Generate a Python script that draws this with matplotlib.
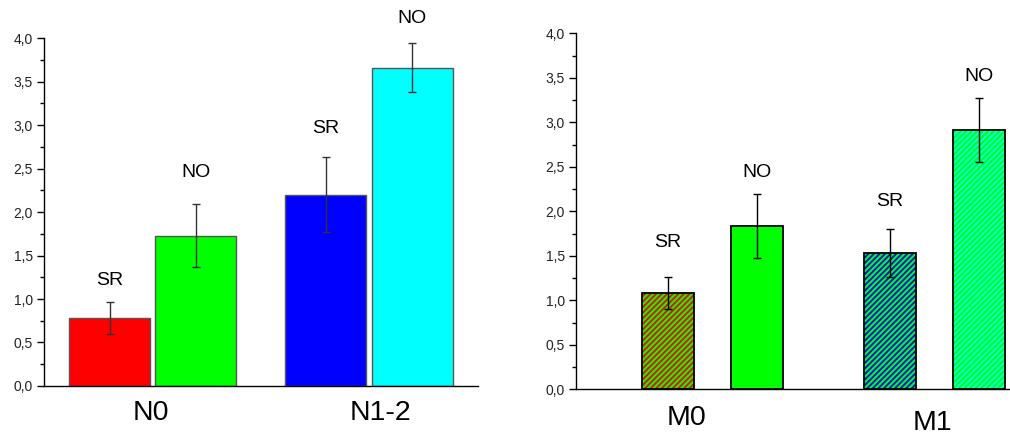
import numpy as np
import matplotlib
matplotlib.use('Agg')
import matplotlib.pyplot as plt
from matplotlib.ticker import MultipleLocator, FuncFormatter

plt.rcParams['font.family'] = ['Liberation Sans', 'DejaVu Sans']
plt.rcParams['hatch.linewidth'] = 1.3

# left panel data
groups_l = ['N0', 'N1-2']
labels_l = ['SR', 'NO', 'SR', 'NO']
vals_l = [0.78, 1.73, 2.20, 3.66]
errs_l = [0.18, 0.36, 0.43, 0.28]
colors_l = ['#ff0000', '#00ff00', '#0000ff', '#00ffff']

# right panel data
groups_r = ['M0', 'M1']
labels_r = ['SR', 'NO', 'SR', 'NO']
vals_r = [1.08, 1.83, 1.53, 2.91]
errs_r = [0.18, 0.36, 0.27, 0.36]
face_r = ['#00ff00', '#00ff00', '#00ff00', '#00ff00']
hatch_col_r = ['#ff0000', None, '#0000ff', '#00ffff']

# layout
xpos_l = [0.0, 1.062, 2.667, 3.735]
lab_y_l = [1.21, 2.45, 2.96, 4.23]
grp_x_l = [0.51, 3.35]
grp_y_l = [-0.078, -0.078]

xpos_r = [0.0, 1.70, 4.26, 5.97]
lab_y_r = [1.65, 2.44, 2.11, 3.51]
grp_x_r = [0.36, 5.07]
grp_y_r = [-0.081, -0.095]

fmt = FuncFormatter(lambda v, p: ('%.1f' % v).replace('.', ','))


def style_axis(ax):
    ax.spines['top'].set_visible(False)
    ax.spines['right'].set_visible(False)
    ax.spines['left'].set_linewidth(1.0)
    ax.spines['bottom'].set_linewidth(1.0)
    ax.set_ylim(0, 4.0)
    ax.yaxis.set_major_locator(MultipleLocator(0.5))
    ax.yaxis.set_minor_locator(MultipleLocator(0.25))
    ax.yaxis.set_major_formatter(fmt)
    ax.tick_params(axis='y', which='major', length=5, width=1, labelsize=10,
                   labelcolor='#222222', pad=3)
    ax.tick_params(axis='y', which='minor', length=3, width=1)
    ax.set_xticks([])


fig = plt.figure(figsize=(10.1, 4.36), dpi=100)

# left
ax1 = fig.add_axes([0.0436, 0.1147, 0.4297, 0.798])
ax1.bar(xpos_l, vals_l, width=1.0, color=colors_l, edgecolor='#555555',
        linewidth=1.0, zorder=2)
ax1.errorbar(xpos_l, vals_l, yerr=errs_l, fmt='none', ecolor='#333333',
             elinewidth=1.0, capsize=3, capthick=1.0, zorder=3)
for x, y, t in zip(xpos_l, lab_y_l, labels_l):
    ax1.text(x, y, t, ha='center', va='center', fontsize=14, clip_on=False)
for x, y, t in zip(grp_x_l, grp_y_l, groups_l):
    ax1.text(x, y, t, ha='center', va='center', fontsize=20.5,
             transform=ax1.get_xaxis_transform(), clip_on=False)
ax1.set_xlim(-0.81, 4.55)
style_axis(ax1)

# right
ax2 = fig.add_axes([0.5703, 0.1071, 0.4297, 0.8165])
for x, v, fc, hc in zip(xpos_r, vals_r, face_r, hatch_col_r):
    if hc is None:
        ax2.bar(x, v, width=1.0, color=fc, edgecolor='black',
                linewidth=1.3, zorder=2)
    else:
        ax2.bar(x, v, width=1.0, color=fc, edgecolor=hc, hatch='//////',
                linewidth=0, zorder=2)
        ax2.bar(x, v, width=1.0, fill=False, edgecolor='black',
                linewidth=1.3, zorder=2.5)
ax2.errorbar(xpos_r, vals_r, yerr=errs_r, fmt='none', ecolor='black',
             elinewidth=1.0, capsize=3, capthick=1.0, zorder=3)
for x, y, t in zip(xpos_r, lab_y_r, labels_r):
    ax2.text(x, y, t, ha='center', va='center', fontsize=14, clip_on=False)
for x, y, t in zip(grp_x_r, grp_y_r, groups_r):
    ax2.text(x, y, t, ha='center', va='center', fontsize=20.5,
             transform=ax2.get_xaxis_transform(), clip_on=False)
ax2.set_xlim(-1.77, 6.57)
style_axis(ax2)

fig.savefig('out.png', dpi=100)
